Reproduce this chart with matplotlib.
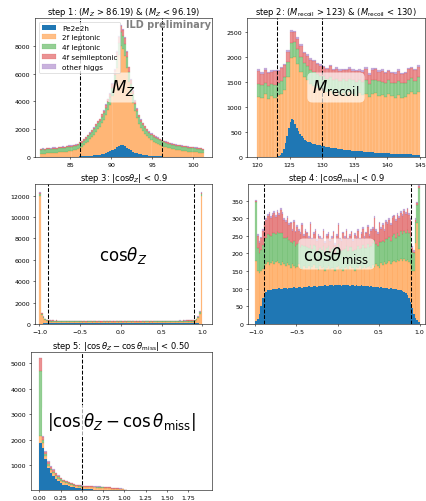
"""Cut-flow histograms for the e+e- -> Z(ee)H selection, one panel per step."""
import numpy as np
import matplotlib
matplotlib.use("Agg")
import matplotlib.pyplot as plt

plt.rcParams.update({
    "font.size": 9,
    "axes.titlesize": 12,
    "xtick.labelsize": 9,
    "ytick.labelsize": 9,
    "legend.fontsize": 10.5,
})

BKG_NAMES = ["2f leptonic", "4f leptonic", "4f semileptonic", "other higgs"]
BKG_COLORS = ["tab:orange", "tab:green", "tab:red", "tab:purple"]
SIG_NAME = "Pe2e2h"

# ---- step 1: M_Z, 80 bins ----
MZ_2F = [245, 250, 240, 265, 275, 270, 300, 315, 310, 335,
         355, 365, 370, 390, 420, 445, 470, 490, 550, 645,
         710, 845, 980, 1115, 1275, 1425, 1595, 1815, 1995, 2125,
         2425, 2645, 3040, 3390, 3740, 4355, 5235, 6370, 7330, 8010,
         7755, 7240, 6370, 5405, 4620, 3910, 3305, 2780, 2390, 2080,
         1860, 1680, 1510, 1340, 1205, 1100, 1010, 945, 870, 810,
         750, 695, 655, 615, 580, 545, 510, 495, 470, 450,
         430, 415, 395, 375, 360, 340, 325, 300, 290, 255]
MZ_4FL = [280, 300, 270, 290, 300, 280, 300, 290, 285, 300,
          295, 300, 290, 305, 310, 300, 310, 315, 320, 330,
          330, 340, 350, 360, 370, 380, 400, 420, 430, 440,
          470, 490, 520, 550, 580, 630, 700, 800, 880, 950,
          920, 870, 800, 720, 650, 600, 540, 500, 460, 440,
          420, 410, 390, 375, 365, 355, 350, 340, 335, 330,
          325, 320, 315, 310, 310, 305, 300, 300, 295, 295,
          290, 295, 285, 290, 280, 285, 280, 275, 280, 270]
MZ_4FSL = [55, 50, 60, 65, 55, 60, 60, 65, 55, 65,
           60, 65, 60, 65, 70, 65, 70, 75, 70, 80,
           85, 90, 95, 100, 110, 115, 125, 135, 145, 155,
           170, 180, 200, 220, 235, 265, 310, 370, 420, 460,
           450, 420, 370, 320, 280, 245, 215, 185, 165, 150,
           140, 130, 120, 110, 105, 100, 95, 90, 90, 85,
           80, 80, 75, 75, 70, 70, 70, 65, 65, 65,
           60, 60, 60, 55, 60, 55, 55, 55, 50, 55]
MZ_OH = [30, 30, 30, 30, 30, 30, 30, 30, 30, 30,
         30, 30, 30, 30, 30, 30, 30, 30, 30, 30,
         30, 30, 30, 30, 30, 30, 30, 30, 30, 30,
         35, 35, 40, 40, 45, 50, 55, 60, 70, 80,
         75, 70, 60, 55, 50, 45, 40, 35, 35, 30,
         30, 30, 30, 30, 30, 30, 30, 30, 30, 30,
         30, 30, 30, 30, 30, 30, 30, 30, 30, 30,
         30, 30, 30, 30, 30, 30, 30, 30, 30, 30]
MZ_SIG = [10, 10, 10, 12, 12, 12, 14, 14, 15, 15,
          16, 18, 18, 20, 22, 24, 26, 30, 35, 40,
          48, 55, 65, 75, 88, 100, 115, 135, 155, 175,
          200, 235, 275, 330, 400, 480, 580, 690, 790, 860,
          850, 780, 680, 570, 470, 390, 320, 265, 220, 185,
          155, 130, 110, 95, 80, 68, 58, 50, 44, 38,
          33, 29, 26, 23, 21, 19, 18, 17, 16, 15,
          14, 14, 13, 12, 12, 11, 11, 10, 10, 10]

# ---- step 2: M_recoil, 50 bins (signal 100 bins) ----
MREC_2F = [1200, 1180, 1250, 1150, 1220, 1170, 1230, 1260, 1330, 1600,
           1980, 2000, 1850, 1700, 1600, 1540, 1450, 1420, 1380, 1350,
           1330, 1290, 1320, 1250, 1300, 1240, 1280, 1220, 1300, 1250,
           1210, 1280, 1230, 1260, 1200, 1250, 1270, 1210, 1240, 1190,
           1260, 1220, 1180, 1230, 1170, 1200, 1260, 1290, 1250, 1300]
MREC_4FL = [250, 260, 230, 270, 240, 260, 250, 260, 270, 300,
            300, 290, 310, 290, 280, 270, 290, 270, 280, 260,
            280, 260, 270, 290, 250, 280, 270, 300, 260, 280,
            290, 250, 270, 280, 260, 290, 270, 300, 260, 280,
            270, 250, 290, 280, 300, 270, 280, 290, 260, 300]
MREC_4FSL = [270, 220, 260, 250, 240, 280, 230, 250, 230, 200,
             210, 200, 200, 230, 190, 210, 200, 220, 190, 210,
             180, 200, 220, 190, 210, 200, 180, 210, 200, 190,
             210, 190, 200, 220, 180, 200, 210, 190, 220, 200,
             180, 200, 190, 210, 180, 200, 210, 190, 220, 200]
MREC_OH = [30, 28, 32, 30, 29, 31, 30, 33, 30, 30,
           32, 30, 29, 31, 30, 28, 30, 32, 30, 29,
           31, 30, 28, 30, 32, 30, 29, 31, 30, 30,
           28, 30, 32, 30, 29, 31, 30, 28, 30, 32,
           30, 29, 31, 30, 30, 28, 30, 32, 30, 29]
MREC_SIG = [0, 0, 0, 0, 0, 0, 0, 0, 0, 0,
            0, 2, 5, 15, 35, 80, 150, 270, 420, 580,
            700, 760, 740, 660, 580, 510, 460, 410, 375, 345,
            320, 305, 290, 280, 268, 258, 248, 240, 232, 224,
            216, 210, 204, 198, 192, 186, 180, 175, 170, 165,
            160, 156, 152, 148, 144, 140, 136, 132, 129, 126,
            122, 119, 116, 113, 110, 107, 104, 101, 98, 96,
            93, 91, 88, 86, 84, 82, 80, 78, 76, 74,
            72, 70, 68, 66, 64, 63, 61, 60, 58, 57,
            55, 54, 52, 51, 50, 48, 47, 46, 45, 44]

# ---- step 3: cos(theta_Z), 100 bins ----
CZ_2F = [12000, 800, 520, 330, 270, 230, 215, 205, 210, 200,
         212, 198, 205, 195, 200, 190, 198, 205, 185, 192,
         180, 188, 178, 182, 175, 180, 172, 178, 170, 176,
         174, 180, 170, 175, 178, 172, 176, 170, 174, 178,
         172, 175, 170, 176, 173, 178, 171, 175, 172, 177,
         174, 170, 176, 172, 175, 178, 171, 174, 170, 176,
         173, 177, 172, 175, 170, 178, 174, 171, 176, 173,
         178, 172, 180, 175, 182, 178, 185, 180, 188, 192,
         185, 195, 190, 198, 200, 195, 205, 200, 210, 205,
         212, 208, 215, 220, 230, 270, 330, 520, 950, 11950]
CZ_4FL = [160, 130, 110, 95, 80, 75, 72, 70, 74, 68,
          72, 70, 66, 70, 68, 65, 70, 66, 64, 68,
          65, 62, 66, 60, 64, 62, 60, 63, 61, 60,
          62, 58, 61, 60, 63, 59, 60, 62, 58, 61,
          60, 63, 59, 61, 60, 58, 62, 60, 61, 59,
          62, 60, 58, 61, 60, 63, 59, 61, 60, 62,
          58, 61, 60, 63, 59, 62, 60, 61, 63, 60,
          62, 64, 61, 63, 65, 62, 66, 64, 67, 65,
          68, 66, 70, 67, 69, 72, 70, 68, 73, 71,
          74, 72, 75, 78, 80, 85, 95, 110, 140, 200]
CZ_4FSL = [100, 70, 55, 45, 45, 45, 50, 48, 52, 46,
           50, 48, 45, 50, 47, 44, 48, 45, 43, 46,
           42, 45, 40, 43, 41, 44, 40, 42, 39, 41,
           40, 38, 42, 39, 41, 40, 38, 42, 40, 39,
           41, 38, 40, 42, 39, 41, 40, 38, 41, 40,
           39, 42, 40, 38, 41, 39, 42, 40, 38, 41,
           40, 39, 42, 38, 41, 40, 39, 42, 40, 41,
           43, 40, 42, 44, 41, 45, 43, 46, 44, 47,
           45, 48, 46, 49, 47, 50, 48, 51, 49, 50,
           52, 48, 50, 47, 45, 45, 45, 55, 70, 100]
CZ_OH = [120, 50, 30, 20, 15, 12, 10, 10, 9, 9,
         8, 8, 8, 8, 8, 8, 8, 8, 8, 8,
         8, 8, 8, 8, 8, 8, 8, 8, 8, 8,
         8, 8, 8, 8, 8, 8, 8, 8, 8, 8,
         8, 8, 8, 8, 8, 8, 8, 8, 8, 8,
         8, 8, 8, 8, 8, 8, 8, 8, 8, 8,
         8, 8, 8, 8, 8, 8, 8, 8, 8, 8,
         8, 8, 8, 8, 8, 8, 8, 8, 8, 8,
         8, 8, 8, 8, 8, 8, 8, 8, 8, 9,
         9, 10, 10, 12, 15, 20, 30, 50, 80, 120]
CZ_SIG = [20, 40, 60, 80, 90, 95, 98, 100, 102, 99,
          103, 101, 104, 100, 105, 102, 106, 103, 104, 107,
          105, 108, 104, 107, 109, 106, 108, 110, 107, 109,
          111, 108, 110, 112, 109, 111, 110, 113, 110, 112,
          111, 113, 110, 112, 114, 111, 113, 112, 110, 113,
          112, 114, 111, 113, 110, 112, 114, 111, 113, 110,
          112, 109, 111, 113, 110, 108, 111, 109, 107, 110,
          108, 106, 109, 107, 105, 108, 104, 106, 103, 105,
          102, 104, 101, 103, 100, 102, 99, 101, 98, 97,
          96, 95, 94, 92, 90, 90, 80, 60, 40, 20]

# ---- step 4: cos(theta_miss), 100 bins ----
CM_2F = [180, 150, 145, 150, 155, 165, 170, 175, 168, 172,
         178, 170, 175, 180, 172, 168, 175, 170, 165, 172,
         168, 160, 170, 165, 158, 162, 170, 160, 155, 165,
         160, 158, 165, 155, 162, 168, 158, 160, 152, 165,
         158, 162, 150, 160, 165, 155, 160, 158, 150, 162,
         165, 155, 160, 150, 158, 162, 155, 165, 158, 160,
         150, 162, 158, 165, 155, 160, 168, 158, 162, 165,
         160, 168, 162, 170, 165, 160, 172, 168, 175, 170,
         172, 178, 170, 175, 180, 175, 182, 178, 185, 180,
         185, 178, 182, 175, 170, 150, 150, 230, 285, 214]
CM_4FL = [165, 65, 55, 60, 70, 75, 75, 80, 85, 78,
          80, 88, 80, 82, 85, 90, 82, 75, 78, 76,
          70, 72, 60, 70, 62, 66, 60, 58, 68, 55,
          62, 60, 50, 70, 50, 55, 62, 48, 58, 50,
          52, 60, 50, 55, 56, 50, 52, 60, 48, 55,
          62, 52, 48, 60, 54, 60, 52, 53, 60, 48,
          60, 52, 62, 48, 60, 64, 48, 58, 65, 52,
          60, 62, 75, 58, 56, 72, 60, 66, 58, 70,
          68, 70, 66, 74, 75, 70, 76, 72, 78, 76,
          80, 80, 84, 82, 78, 55, 50, 60, 52, 173]
CM_4FSL = [5, 35, 30, 33, 40, 45, 50, 52, 60, 50,
           52, 57, 48, 55, 53, 65, 56, 50, 47, 52,
           42, 53, 35, 55, 40, 47, 35, 37, 57, 30,
           43, 39, 30, 58, 28, 32, 45, 27, 40, 30,
           30, 41, 30, 35, 34, 30, 33, 42, 27, 33,
           53, 33, 27, 47, 33, 43, 33, 32, 42, 27,
           43, 31, 45, 27, 40, 46, 29, 41, 48, 33,
           43, 40, 63, 37, 34, 53, 38, 46, 32, 50,
           43, 47, 44, 51, 50, 48, 52, 50, 52, 51,
           55, 55, 59, 53, 47, 10, 5, 5, 5, 5]
CM_OH = [3, 5, 5, 5, 5, 5, 5, 5, 5, 5,
         5, 5, 5, 5, 5, 5, 5, 5, 5, 5,
         5, 5, 5, 5, 5, 5, 5, 5, 5, 5,
         5, 5, 5, 5, 5, 5, 5, 5, 5, 5,
         5, 5, 5, 5, 5, 5, 5, 5, 5, 5,
         5, 5, 5, 5, 5, 5, 5, 5, 5, 5,
         5, 5, 5, 5, 5, 5, 5, 5, 5, 5,
         5, 5, 5, 5, 5, 5, 5, 5, 5, 5,
         5, 5, 5, 5, 5, 5, 5, 5, 5, 5,
         5, 5, 5, 5, 5, 5, 5, 5, 3, 3]
CM_SIG = [8, 15, 28, 50, 75, 88, 92, 95, 96, 97,
          98, 99, 98, 100, 101, 99, 100, 102, 101, 100,
          102, 103, 101, 104, 102, 103, 105, 104, 103, 106,
          104, 105, 107, 106, 105, 108, 107, 106, 108, 109,
          107, 108, 110, 109, 108, 110, 111, 109, 110, 112,
          110, 111, 109, 110, 112, 111, 110, 109, 111, 110,
          109, 110, 108, 109, 110, 108, 107, 109, 108, 106,
          107, 105, 106, 104, 105, 103, 104, 102, 103, 101,
          102, 100, 101, 99, 100, 98, 97, 96, 95, 93,
          90, 87, 82, 75, 62, 45, 28, 17, 10, 5]

# ---- step 5: |cos(theta_Z) - cos(theta_miss)|, first 34 of 64 bins filled ----
DIFF_2F = [2150, 1870, 1350, 980, 800, 680, 560, 470, 390, 330,
           280, 245, 210, 185, 165, 145, 140, 130, 128, 125,
           122, 120, 116, 117, 110, 106, 103, 95, 68, 65,
           62, 58, 43, 3]
DIFF_4FL = [2560, 130, 80, 70, 60, 60, 50, 50, 45, 40,
            35, 32, 30, 28, 25, 22, 20, 18, 17, 16,
            15, 14, 14, 13, 12, 12, 11, 10, 8, 7,
            7, 6, 5, 1]
DIFF_4FSL = [480, 120, 100, 80, 80, 70, 65, 55, 50, 45,
             42, 40, 38, 35, 33, 32, 30, 27, 25, 24,
             23, 22, 21, 21, 20, 19, 18, 17, 13, 12,
             11, 11, 8, 1]
DIFF_OH = [30, 20, 20, 20, 20, 20, 15, 15, 15, 15,
           13, 13, 12, 12, 12, 11, 10, 10, 10, 10,
           10, 9, 9, 9, 8, 8, 8, 8, 6, 6,
           5, 5, 4, 0]
DIFF_SIG = [1880, 1680, 1220, 890, 690, 560, 460, 370, 300, 235,
            200, 170, 145, 120, 100, 85, 70, 60, 50, 45,
            40, 35, 30, 28, 25, 22, 20, 18, 15, 12,
            10, 8, 5, 1]

W, H = 426, 502


def add_axes_px(fig, left, right, top, bottom):
    return fig.add_axes([left / W, 1 - bottom / H, (right - left) / W, (bottom - top) / H])


def centers(edges, n):
    return (0.5 * (edges[1:] + edges[:-1]))[:n]


def draw_panel(ax, edges, bkgs, sig_edges, sig, cuts, title, label):
    n = len(bkgs[0])
    x = centers(edges, n)
    _, _, conts = ax.hist([x] * len(bkgs), bins=edges, weights=bkgs, stacked=True,
                          color=BKG_COLORS, alpha=0.5, label=BKG_NAMES)
    # thin same-colour outlines give the darker seams between bars
    for cont, col in zip(conts, BKG_COLORS):
        for p in cont:
            p.set_edgecolor(col)
            p.set_linewidth(0.35)
    xs = centers(sig_edges, len(sig))
    ax.hist(xs, bins=sig_edges, weights=sig, color="tab:blue", label=SIG_NAME)
    for c in cuts:
        ax.axvline(c, color="k", ls="--", lw=1.5)
    ax.set_title(title)
    ax.text(0.5, 0.5, label, transform=ax.transAxes, ha="center", va="center",
            fontsize=24, zorder=5,
            bbox=dict(boxstyle="round", facecolor="white", edgecolor="none", alpha=0.65))


fig = plt.figure(figsize=(W / 50, H / 50), dpi=50)

# step 1
ax1 = add_axes_px(fig, 35, 212, 19, 158)
e1 = np.linspace(81.3, 101.3, 81)
draw_panel(ax1, e1, [MZ_2F, MZ_4FL, MZ_4FSL, MZ_OH], e1, MZ_SIG,
           [86.19, 96.19], r"step 1: ($M_Z$ > 86.19) & ($M_Z$ < 96.19)", r"$M_Z$")
ax1.set_xlim(80.73, 102.3)
ax1.set_ylim(0, 10000)
ax1.set_xticks([85, 90, 95, 100])
ax1.set_yticks([0, 2000, 4000, 6000, 8000])
h, l = ax1.get_legend_handles_labels()
order = [l.index(SIG_NAME)] + [l.index(nm) for nm in BKG_NAMES]
ax1.legend([h[i] for i in order], [l[i] for i in order], loc="upper left")
ax1.text(0.995, 0.995, "ILD preliminary", transform=ax1.transAxes, ha="right", va="top",
         fontsize=14, fontweight="bold", color="grey")

# step 2
ax2 = add_axes_px(fig, 247, 425, 19, 158)
e2 = np.linspace(120, 145, 51)
s2 = np.linspace(120, 145, 101)
draw_panel(ax2, e2, [MREC_2F, MREC_4FL, MREC_4FSL, MREC_OH], s2, MREC_SIG,
           [123, 130], r"step 2: ($M_{\rm recoil}$ > 123) & ($M_{\rm recoil}$ < 130)",
           r"$M_{\rm recoil}$")
ax2.set_xlim(118.46, 145.8)
ax2.set_ylim(0, 2770)
ax2.set_xticks([120, 125, 130, 135, 140, 145])
ax2.set_yticks([0, 500, 1000, 1500, 2000, 2500])

# step 3
ax3 = add_axes_px(fig, 35, 212, 185, 325)
e3 = np.linspace(-1, 1, 101)
draw_panel(ax3, e3, [CZ_2F, CZ_4FL, CZ_4FSL, CZ_OH], e3, CZ_SIG,
           [-0.9, 0.9], r"step 3: |cos$\theta_Z$| < 0.9", r"cos$\theta_Z$")
ax3.set_xlim(-1.055, 1.12)
ax3.set_ylim(0, 13090)
ax3.set_xticks([-1, -0.5, 0, 0.5, 1])
ax3.set_yticks([0, 2000, 4000, 6000, 8000, 10000, 12000])

# step 4
ax4 = add_axes_px(fig, 248, 425, 185, 325)
draw_panel(ax4, e3, [CM_2F, CM_4FL, CM_4FSL, CM_OH], e3, CM_SIG,
           [-0.9, 0.9], r"step 4: |cos$\theta_{\rm miss}$| < 0.9", r"cos$\theta_{\rm miss}$")
ax4.set_xlim(-1.09, 1.065)
ax4.set_ylim(0, 397)
ax4.set_xticks([-1, -0.5, 0, 0.5, 1])
ax4.set_yticks([0, 50, 100, 150, 200, 250, 300, 350])

# step 5
ax5 = add_axes_px(fig, 31, 212, 353, 491)
e5 = np.linspace(0, 1.94, 65)
draw_panel(ax5, e5, [DIFF_2F, DIFF_4FL, DIFF_4FSL, DIFF_OH], e5, DIFF_SIG,
           [0.5], r"step 5: $|\cos\theta_Z - \cos\theta_{\rm miss}|$ < 0.50",
           r"$|\cos\theta_Z - \cos\theta_{\rm miss}|$")
ax5.set_xlim(-0.097, 2.03)
ax5.set_ylim(20, 5440)
ax5.set_xticks([0, 0.25, 0.5, 0.75, 1.0, 1.25, 1.5, 1.75])
ax5.set_yticks([1000, 2000, 3000, 4000, 5000])

fig.savefig("out.png", dpi=50)
